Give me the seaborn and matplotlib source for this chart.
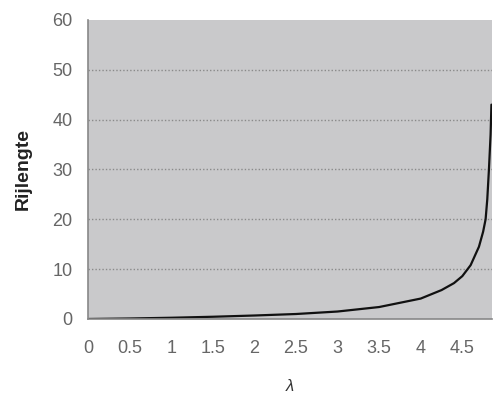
import matplotlib
matplotlib.use("Agg")
import matplotlib.pyplot as plt
import seaborn as sns
import pandas as pd

# aflezing van de curve
lam = [0, 0.5, 1, 1.5, 2, 2.5, 3, 3.5, 4, 4.25, 4.4, 4.5, 4.6, 4.7, 4.75, 4.78, 4.8, 4.82, 4.84, 4.85]
rij = [0, 0.1, 0.25, 0.45, 0.7, 1.0, 1.5, 2.4, 4.1, 5.8, 7.2, 8.6, 10.8, 14.5, 17.5, 20, 24, 30, 37, 43]
xticks = [0, 0.5, 1, 1.5, 2, 2.5, 3, 3.5, 4, 4.5]
xticklabels = ['0', '0.5', '1', '1.5', '2', '2.5', '3', '3.5', '4', '4.5']
yticks = [0, 10, 20, 30, 40, 50, 60]

df = pd.DataFrame({'lam': lam, 'rij': rij})

sns.set_style('white')
plt.rcParams['font.family'] = ['Liberation Sans', 'DejaVu Sans']

fig = plt.figure(figsize=(4.93, 3.98), dpi=100)
ax = fig.add_axes([0.1785, 0.1985, 0.82, 0.7515])
ax.set_facecolor('#c9c9cb')

sns.lineplot(data=df, x='lam', y='rij', ax=ax, color='#111111', linewidth=1.6)

ax.set_xlim(0, 4.86)
ax.set_ylim(0, 60)
ax.set_xticks(xticks)
ax.set_xticklabels(xticklabels)
ax.set_yticks(yticks)
for v in yticks[1:-1]:
    ax.axhline(v, color='#8a8a8a', linestyle=(0, (1, 1.5)), linewidth=1, zorder=0)

for s in ['top', 'right']:
    ax.spines[s].set_visible(False)
for s in ['left', 'bottom']:
    ax.spines[s].set_color('#888888')
    ax.spines[s].set_linewidth(1.2)

ax.tick_params(axis='both', direction='out', length=5, width=1, color='#888888',
               labelcolor='#666666', labelsize=13)
ax.tick_params(axis='x', pad=10)
ax.tick_params(axis='y', pad=6)
ax.set_xlabel('λ', fontsize=12, color='#333333', style='italic', labelpad=16)
ax.set_ylabel('Rijlengte', fontsize=14, color='#222222', fontweight='bold', labelpad=15)

fig.savefig('out.png', dpi=100)
